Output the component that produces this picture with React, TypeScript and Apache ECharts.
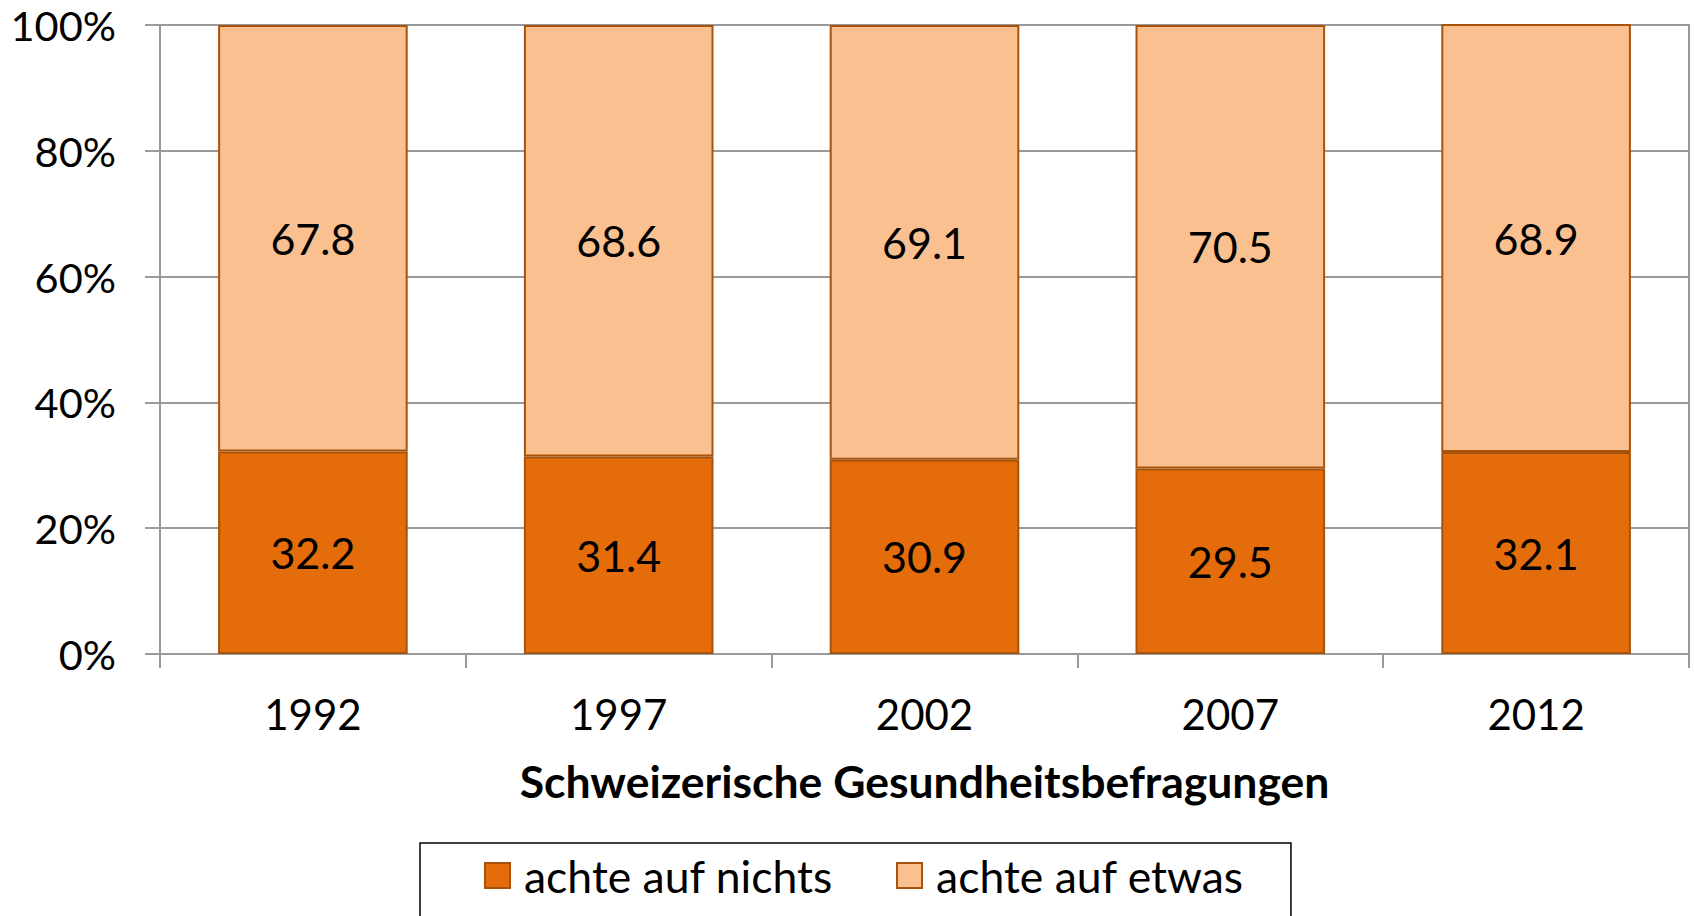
import React, { useEffect, useRef } from "react";
import * as echarts from "echarts";

const categories = ["1992", "1997", "2002", "2007", "2012"];
const nichtsValues = [32.2, 31.4, 30.9, 29.5, 32.1];
const etwasValues = [67.8, 68.6, 69.1, 70.5, 68.9];
const seriesNames = ["achte auf nichts", "achte auf etwas"];
const axisTitle = "Schweizerische Gesundheitsbefragungen";

const FONT = "Lato, 'Open Sans', sans-serif";
const GRID_COLOR = "#9a9a9a";

export default function App() {
  const ref = useRef<HTMLDivElement>(null);
  useEffect(() => {
    document.body.style.margin = "0";
    if (!ref.current) return;
    const chart = echarts.init(ref.current, undefined, { renderer: "svg" });
    const labelStyle = {
      show: true,
      position: "inside" as const,
      color: "#000",
      fontFamily: FONT,
      fontSize: 43,
      formatter: (p: any) => Number(p.value).toFixed(1),
    };
    chart.setOption({
      animation: false,
      backgroundColor: "#fff",
      textStyle: { fontFamily: FONT },
      grid: {
        left: 160,
        right: 5,
        top: 25,
        bottom: 262,
        show: true,
        borderColor: GRID_COLOR,
        borderWidth: 2,
      },
      legend: {
        left: 420,
        top: 843,
        width: 900,
        padding: [10, 47, 60, 64],
        borderColor: "#000",
        borderWidth: 1.5,
        itemWidth: 25,
        itemHeight: 25,
        itemGap: 63,
        icon: "rect",
        textStyle: {
          fontFamily: FONT,
          fontSize: 44.5,
          color: "#000",
          padding: [0, 0, 0, 9],
        },
        data: seriesNames,
      },
      xAxis: {
        type: "category",
        data: categories,
        name: axisTitle,
        nameLocation: "middle",
        nameGap: 104,
        nameTextStyle: {
          fontFamily: FONT,
          fontSize: 44.5,
          fontWeight: "bold",
          color: "#000",
        },
        axisLine: { show: true, lineStyle: { color: GRID_COLOR, width: 2 } },
        axisTick: { show: true, length: 14, lineStyle: { color: GRID_COLOR, width: 2 } },
        axisLabel: { fontFamily: FONT, fontSize: 42, color: "#000", margin: 39 },
        splitLine: { show: false },
      },
      yAxis: {
        type: "value",
        min: 0,
        max: 100,
        interval: 20,
        axisLine: { show: true, lineStyle: { color: GRID_COLOR, width: 2 } },
        axisTick: { show: true, length: 15, lineStyle: { color: GRID_COLOR, width: 2 } },
        axisLabel: {
          fontFamily: FONT,
          fontSize: 41.5,
          color: "#000",
          margin: 44,
          formatter: "{value}%",
        },
        splitLine: { show: true, lineStyle: { color: GRID_COLOR, width: 2 } },
      },
      series: [
        {
          name: seriesNames[0],
          type: "bar",
          stack: "total",
          data: nichtsValues,
          barWidth: "62%",
          itemStyle: { color: "#E46C0A", borderColor: "#A8530C", borderWidth: 2 },
          label: labelStyle,
        },
        {
          name: seriesNames[1],
          type: "bar",
          stack: "total",
          data: etwasValues,
          barWidth: "62%",
          itemStyle: { color: "#FAC090", borderColor: "#A8530C", borderWidth: 2 },
          label: labelStyle,
        },
      ],
    });
    return () => chart.dispose();
  }, []);
  return <div ref={ref} style={{ width: 1694, height: 916 }} />;
}
